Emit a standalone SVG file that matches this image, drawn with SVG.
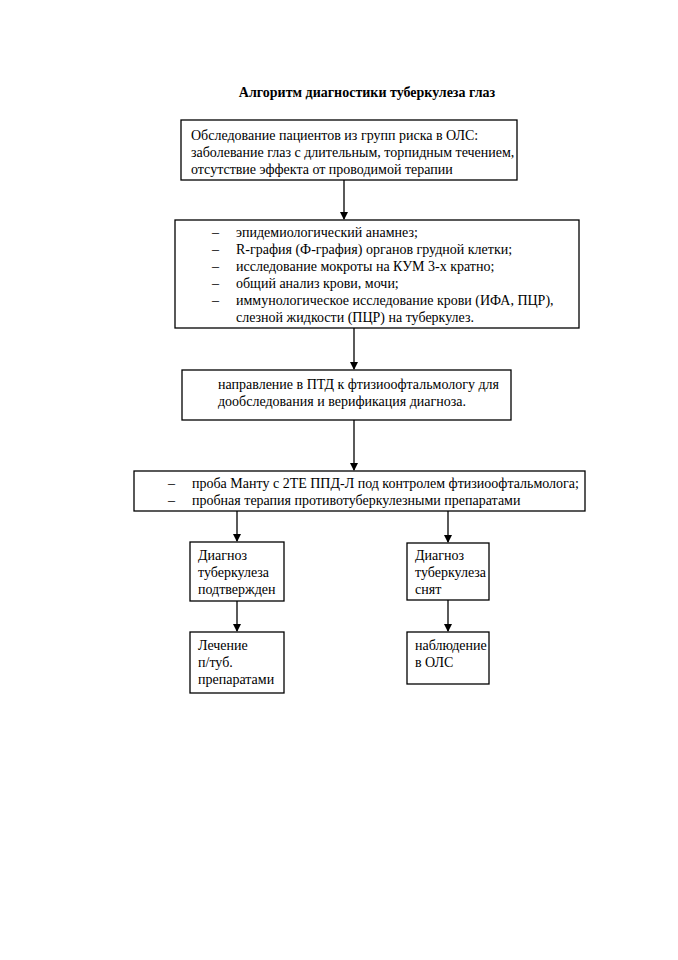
<svg xmlns="http://www.w3.org/2000/svg" width="678" height="960" viewBox="0 0 678 960">
<style>
.box{fill:#fff;stroke:#000;stroke-width:1.3}
.t{font-family:"Liberation Serif","Times New Roman",serif;font-size:14px;fill:#000}
.title{font-family:"Liberation Serif","Times New Roman",serif;font-size:14px;font-weight:bold;fill:#000}
.c{stroke:#000;stroke-width:1.3;fill:none}
</style>
<defs>
<marker id="ah" markerWidth="8" markerHeight="8" refX="7" refY="4" orient="auto" markerUnits="userSpaceOnUse">
<path d="M0,0 L8,4 L0,8 Z" fill="#000"/>
</marker>
</defs>
<rect width="678" height="960" fill="#fff"/>
<text class="title" x="367" y="97" text-anchor="middle">Алгоритм диагностики туберкулеза глаз</text>
<g id="connectors">
<line class="c" x1="344" y1="180" x2="344" y2="219" marker-end="url(#ah)"/>
<line class="c" x1="354" y1="328" x2="354" y2="369" marker-end="url(#ah)"/>
<line class="c" x1="354" y1="420" x2="354" y2="470" marker-end="url(#ah)"/>
<line class="c" x1="237" y1="511" x2="237" y2="541" marker-end="url(#ah)"/>
<line class="c" x1="448" y1="511" x2="448" y2="542" marker-end="url(#ah)"/>
<line class="c" x1="237" y1="601" x2="237" y2="631" marker-end="url(#ah)"/>
<line class="c" x1="448" y1="600" x2="448" y2="631" marker-end="url(#ah)"/>
</g>
<g id="n1">
<rect class="box" x="181" y="120" width="336" height="60"/>
<text class="t" x="191" y="140">Обследование пациентов из групп риска в ОЛС:</text>
<text class="t" x="191" y="157">заболевание глаз с длительным, торпидным течением,</text>
<text class="t" x="191" y="174">отсутствие эффекта от проводимой терапии</text>
</g>
<g id="n2">
<rect class="box" x="175" y="220" width="404" height="108"/>
<text class="t" x="212" y="237">–</text><text class="t" x="236" y="237">эпидемиологический анамнез;</text>
<text class="t" x="212" y="254">–</text><text class="t" x="236" y="254">R-графия (Ф-графия) органов грудной клетки;</text>
<text class="t" x="212" y="271">–</text><text class="t" x="236" y="271">исследование мокроты на КУМ 3-х кратно;</text>
<text class="t" x="212" y="288">–</text><text class="t" x="236" y="288">общий анализ крови, мочи;</text>
<text class="t" x="212" y="305">–</text><text class="t" x="236" y="305">иммунологическое исследование крови (ИФА, ПЦР),</text>
<text class="t" x="236" y="322">слезной жидкости (ПЦР) на туберкулез.</text>
</g>
<g id="n3">
<rect class="box" x="182" y="370" width="329" height="50"/>
<text class="t" x="218" y="389">направление в ПТД к фтизиоофтальмологу для</text>
<text class="t" x="218" y="406">дообследования и верификация диагноза.</text>
</g>
<g id="n4">
<rect class="box" x="134" y="471" width="451" height="40"/>
<text class="t" x="168" y="488">–</text><text class="t" x="192" y="488">проба Манту  с 2ТЕ ППД-Л под контролем фтизиоофтальмолога;</text>
<text class="t" x="168" y="505">–</text><text class="t" x="192" y="505">пробная терапия противотуберкулезными препаратами</text>
</g>
<g id="n5">
<rect class="box" x="190" y="542" width="94" height="59"/>
<text class="t" x="198" y="560">Диагноз</text>
<text class="t" x="198" y="577">туберкулеза</text>
<text class="t" x="198" y="594">подтвержден</text>
</g>
<g id="n6">
<rect class="box" x="407" y="543" width="82" height="57"/>
<text class="t" x="415" y="560">Диагноз</text>
<text class="t" x="415" y="577">туберкулеза</text>
<text class="t" x="415" y="594">снят</text>
</g>
<g id="n7">
<rect class="box" x="190" y="632" width="94" height="61"/>
<text class="t" x="198" y="650">Лечение</text>
<text class="t" x="198" y="667">п/туб.</text>
<text class="t" x="198" y="684">препаратами</text>
</g>
<g id="n8">
<rect class="box" x="407" y="632" width="82" height="52"/>
<text class="t" x="415" y="650">наблюдение</text>
<text class="t" x="415" y="667">в ОЛС</text>
</g>
</svg>
